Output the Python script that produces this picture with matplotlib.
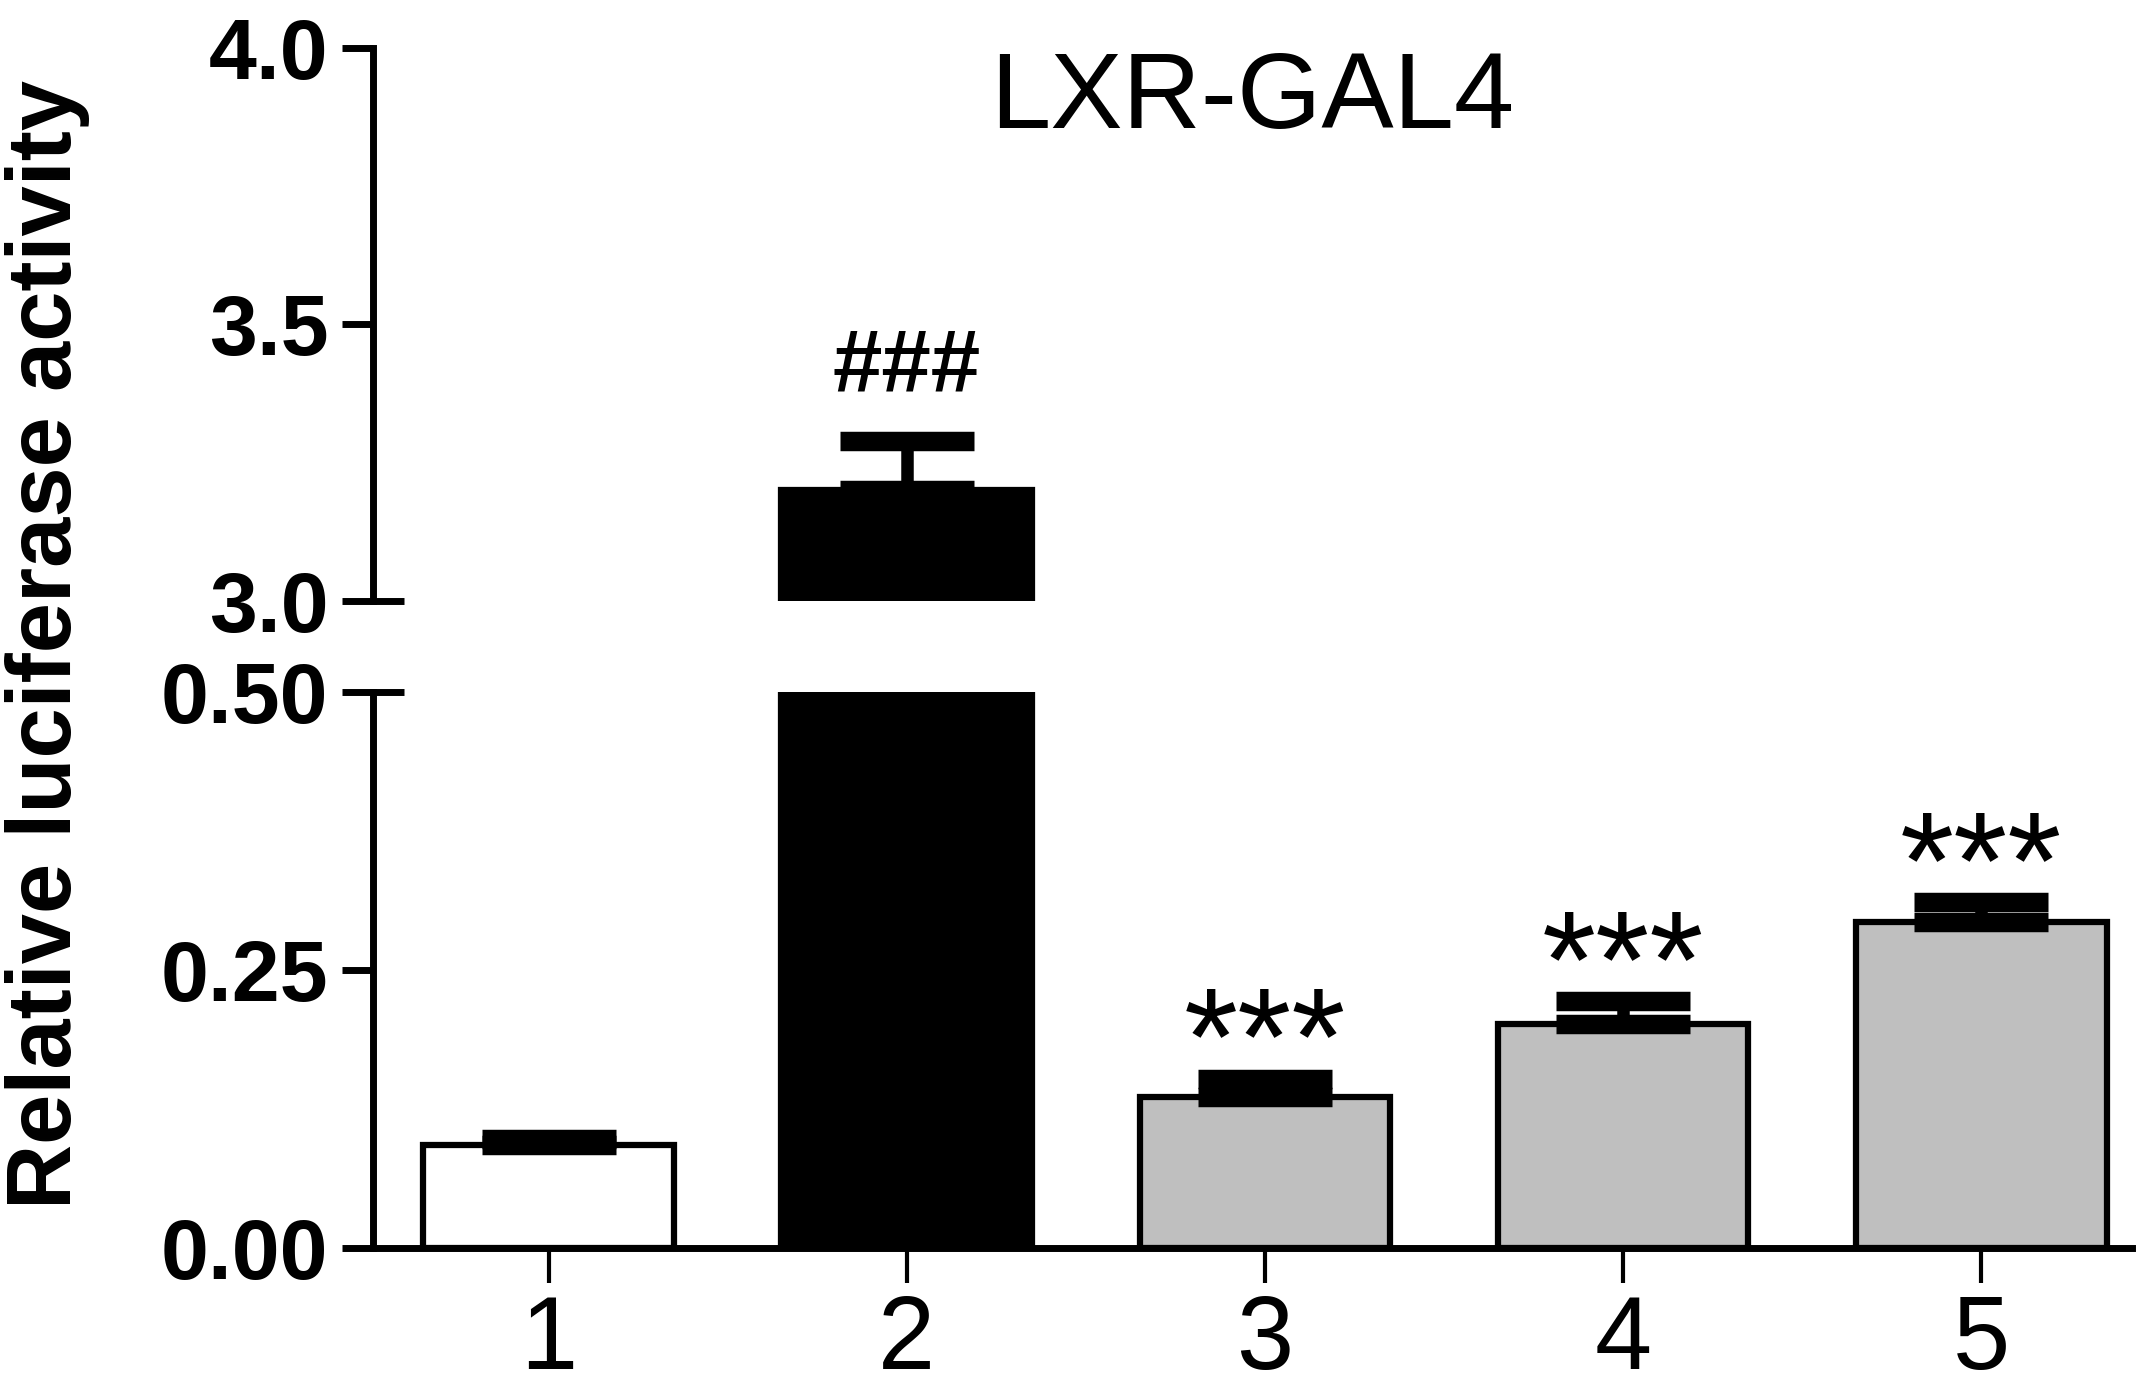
import numpy as np
import matplotlib
matplotlib.use("Agg")
import matplotlib.pyplot as plt
from matplotlib.ticker import FixedLocator, FixedFormatter

plt.rcParams['font.family'] = ['Liberation Sans', 'DejaVu Sans']

# data
groups = ['1', '2', '3', '4', '5']
means = [0.093, 3.20, 0.136, 0.201, 0.293]
sems = [0.005, 0.088, 0.016, 0.021, 0.018]
colors = ['white', 'black', '#bfbfbf', '#bfbfbf', '#bfbfbf']
marks = ['', '###', '***', '***', '***']

x = np.arange(1, len(groups) + 1)

fig = plt.figure(figsize=(21.5, 14), dpi=100)
ax_lo = fig.add_axes([0.1735, 0.1086, 0.818, 0.3971])
ax_hi = fig.add_axes([0.1735, 0.571, 0.818, 0.3947])

lw = 5
for ax in (ax_lo, ax_hi):
    ax.bar(x, means, width=0.70, color=colors, edgecolor='black',
           linewidth=4.5, zorder=2)
    ax.errorbar(x, means, yerr=[np.zeros(len(sems)), sems], fmt='none',
                ecolor='black', elinewidth=9, capsize=48, capthick=14,
                zorder=3)
    ax.set_xlim(0.51, 5.42)
    ax.spines['top'].set_visible(False)
    ax.spines['right'].set_visible(False)
    ax.spines['left'].set_linewidth(lw)
    ax.spines['bottom'].set_linewidth(lw)
    ax.tick_params(axis='y', which='major', direction='out', length=22,
                   width=lw, labelsize=62, pad=10)
    ax.tick_params(axis='y', which='minor', direction='inout', length=44,
                   width=lw, labelsize=62, pad=10)

# lower segment
ax_lo.set_ylim(0, 0.5)
ax_lo.yaxis.set_major_locator(FixedLocator([0.0, 0.25]))
ax_lo.yaxis.set_major_formatter(FixedFormatter(['0.00', '0.25']))
ax_lo.yaxis.set_minor_locator(FixedLocator([0.5]))
ax_lo.yaxis.set_minor_formatter(FixedFormatter(['0.50']))
ax_lo.set_xticks(x)
ax_lo.set_xticklabels(groups)
ax_lo.tick_params(axis='x', direction='out', length=25, width=3,
                  labelsize=74, pad=8)

# upper segment
ax_hi.set_ylim(3.0, 4.0)
ax_hi.yaxis.set_major_locator(FixedLocator([3.5, 4.0]))
ax_hi.yaxis.set_major_formatter(FixedFormatter(['3.5', '4.0']))
ax_hi.yaxis.set_minor_locator(FixedLocator([3.0]))
ax_hi.yaxis.set_minor_formatter(FixedFormatter(['3.0']))
ax_hi.spines['bottom'].set_visible(False)
ax_hi.tick_params(axis='x', bottom=False, labelbottom=False)

for ax in (ax_lo, ax_hi):
    for lab in ax.get_yticklabels(which='both'):
        lab.set_fontweight('bold')

# significance marks
for xi, m, s, mk in zip(x, means, sems, marks):
    if not mk:
        continue
    if mk.startswith('#'):
        ax_hi.annotate(mk, xy=(xi, m + s), xytext=(0, 36),
                       textcoords='offset points', ha='center',
                       va='baseline', fontsize=64, fontweight='bold',
                       annotation_clip=False)
    else:
        ax_lo.annotate(mk, xy=(xi, m + s), xytext=(0, -4),
                       textcoords='offset points', ha='center',
                       va='baseline', fontsize=100, annotation_clip=False)

ax_hi.set_title('LXR-GAL4', fontsize=78, x=0.5, y=0.855, pad=0)

fig.text(0.022, 0.54, 'Relative luciferase activity', rotation=90,
         ha='center', va='center', fontsize=65, fontweight='bold')

plt.savefig('out.png', dpi=100)
